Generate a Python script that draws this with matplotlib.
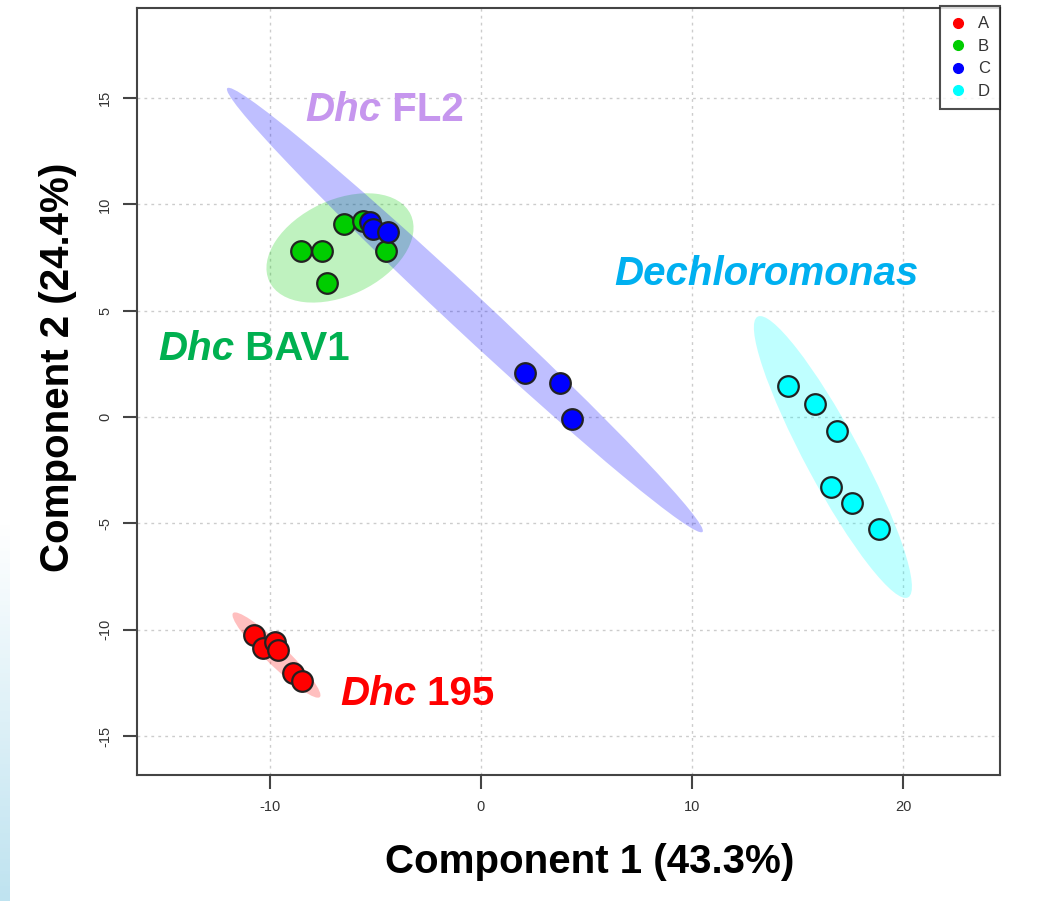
import numpy as np
import matplotlib
matplotlib.use("Agg")
import matplotlib.pyplot as plt
from matplotlib.patches import Ellipse

plt.rcParams['font.family'] = ['Liberation Sans', 'DejaVu Sans']
plt.rcParams['axes.unicode_minus'] = False

groups = ['A', 'B', 'C', 'D']
point_colors = ['#FF0000', '#00CD00', '#0000FF', '#00FFFF']
fill_colors = ['#FF0000', '#00CD00', '#0000FF', '#00FFFF']

# scores per group (Component 1, Component 2)
a_x = [-10.76, -10.33, -9.76, -9.62, -8.91, -8.48]
a_y = [-10.25, -10.86, -10.58, -10.95, -12.04, -12.41]
b_x = [-8.53, -7.54, -6.49, -5.59, -4.50, -7.30]
b_y = [7.80, 7.80, 9.07, 9.21, 7.80, 6.30]
c_x = [-5.26, -5.12, -4.41, 2.09, 3.74, 4.31]
c_y = [9.17, 8.84, 8.70, 2.07, 1.60, -0.09]
d_x = [14.55, 15.83, 16.87, 16.59, 17.58, 18.86]
d_y = [1.46, 0.61, -0.66, -3.29, -4.04, -5.27]

# confidence ellipses: centre x, centre y, length, width, angle
ell_cx = [-9.69, -6.68, -0.76, 16.68]
ell_cy = [-11.19, 7.95, 5.03, -1.88]
ell_len = [5.7, 7.4, 30.7, 15.0]
ell_wid = [1.0, 4.5, 1.8, 2.6]
ell_ang = [-43.8, 25.0, -42.8, -61.6]

xs = [a_x, b_x, c_x, d_x]
ys = [a_y, b_y, c_y, d_y]

fig = plt.figure(figsize=(10.48, 9.01), dpi=100)

# faint blue strip at the lower left edge
bg = fig.add_axes([0, 0, 10 / 1048, 380 / 901])
grad = np.linspace(0, 1, 100).reshape(-1, 1)
bg.imshow(grad, aspect='auto', cmap=matplotlib.colors.LinearSegmentedColormap.from_list(
    'bl', ['#BFE3F0', '#FFFFFF']), origin='lower')
bg.axis('off')

ax = fig.add_axes([137 / 1048, 126 / 901, 863 / 1048, 767 / 901])

for i in range(4):
    ax.add_patch(Ellipse((ell_cx[i], ell_cy[i]), ell_len[i], ell_wid[i], angle=ell_ang[i],
                         facecolor=fill_colors[i], alpha=0.25, edgecolor='none', zorder=1))
for i in range(4):
    ax.scatter(xs[i], ys[i], s=220, color=point_colors[i], edgecolor='#222222',
               linewidth=1.6, zorder=3)

ax.set_xlim(-16.3, 24.6)
ax.set_ylim(-16.83, 19.23)
ax.set_xticks([-10, 0, 10, 20])
ax.set_yticks([-15, -10, -5, 0, 5, 10, 15])
ax.grid(True, color='#CCCCCC', linestyle=(0, (2, 3)), linewidth=1.0)
ax.set_axisbelow(True)
for s in ax.spines.values():
    s.set_color('#444444')
    s.set_linewidth(1.5)
ax.tick_params(axis='both', length=10, width=1.5, color='#444444',
               labelsize=10.5, labelcolor='#333333', pad=8)
for lab in ax.get_yticklabels():
    lab.set_rotation(90)
    lab.set_va('center')

ax.set_xlabel('Component 1 (43.3%)', fontsize=29, fontweight='bold', labelpad=21)
ax.set_ylabel('Component 2 (24.4%)', fontsize=29, fontweight='bold', labelpad=15)
ax.xaxis.label.set_x(0.525)
ax.yaxis.label.set_y(0.531)


def label(x, y, italic_part, rest, color):
    t = ax.text(x, y, italic_part, fontsize=29, fontweight='bold', fontstyle='italic',
                color=color, va='baseline', ha='left', zorder=4)
    if rest:
        ax.annotate(' ' + rest, xy=(1, 0), xycoords=t, fontsize=29, fontweight='bold',
                    color=color, va='bottom', ha='left', zorder=4)


label(-8.34, 13.94, 'Dhc', 'FL2', '#C696EE')
label(6.3, 6.21, 'Dechloromonas', '', '#00B0F0')
label(-15.3, 2.68, 'Dhc', 'BAV1', '#00B050')
label(-6.68, -13.54, 'Dhc', '195', '#FF0000')

handles = [plt.Line2D([], [], marker='o', linestyle='none', markersize=7,
                      markerfacecolor=c, markeredgecolor=c) for c in point_colors]
leg = ax.legend(handles, groups, loc='upper right', bbox_to_anchor=(1.0, 1.002),
                fontsize=12, frameon=True, fancybox=False, handlelength=1.0,
                handletextpad=0.7, labelspacing=0.45, borderpad=0.6, borderaxespad=0)
leg.get_frame().set_edgecolor('#222222')
leg.get_frame().set_linewidth(1.5)
for txt in leg.get_texts():
    txt.set_color('#333333')

fig.savefig('out.png', dpi=100)
